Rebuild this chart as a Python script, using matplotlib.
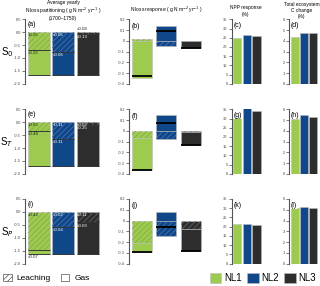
import matplotlib
matplotlib.use('Agg')
import matplotlib.pyplot as plt
from matplotlib.patches import Patch
import numpy as np

plt.rcParams['font.family'] = ['Liberation Sans', 'DejaVu Sans']
plt.rcParams['hatch.linewidth'] = 0.5

# data
models = ['NL1', 'NL2', 'NL3']
scenarios = ['S$_0$', 'S$_T$', 'S$_P$']
colors = ['#9dcb50', '#0f4788', '#2d2d2d']
hatch_colors = ['#7fa840', '#4a7ab5', '#6a6a6a']

# average yearly N loss partitioning (g N m-2 yr-1), negative = loss
leach_avg = [[-0.70, -0.77, -0.07],
             [-0.33, -0.65, -0.12],
             [-1.47, -0.58, -0.41]]
gas_avg = [[-0.95, -0.88, -1.58],
           [-1.37, -1.05, -1.58],
           [-0.17, -1.06, -1.23]]
leach_err = [['±0.25', '±0.06', '±0.08'],
             ['±0.05', '±0.11', '±0.02'],
             ['±0.42', '±0.02', '±0.11']]
gas_err = [['±0.22', '±0.06', '±0.13'],
           ['±0.48', '±0.11', '±0.25'],
           ['±0.07', '±0.04', '±0.03']]

# N loss response (g N m-2 yr-1)
leach_resp = [[0.02, -0.05, -0.005],
              [-0.065, -0.075, -0.01],
              [-0.21, -0.14, -0.075]]
gas_resp = [[-0.35, 0.137, -0.065],
            [-0.30, 0.15, -0.12],
            [-0.08, 0.08, -0.205]]

# NPP response (%) and total ecosystem C change (%)
npp_resp = [[24.8, 26.4, 25.8],
            [32.6, 35.9, 34.3],
            [21.7, 21.5, 20.8]]
c_change = [[4.37, 4.77, 4.70],
            [5.13, 5.47, 5.32],
            [5.16, 5.28, 5.13]]

panel_letters = 'abcdefghijkl'

W, H = 320, 286
fig = plt.figure(figsize=(W / 100, H / 100), dpi=100)

row_top = [19.3, 109.3, 199.0]
row_h = 64.5
# (left px, width px)
cols = [(25, 76.7), (129.3, 74), (231.7, 30), (289, 28.8)]
xlims = [(-0.565, 2.565), (-0.513, 2.513), (-0.516, 2.516), (-0.65, 2.5)]


def make_ax(r, c):
    left, w = cols[c]
    ax = fig.add_axes([left / W, 1 - (row_top[r] + row_h) / H, w / W, row_h / H])
    for s in ['top', 'right', 'bottom']:
        ax.spines[s].set_visible(False)
    ax.spines['left'].set_color('#555555')
    ax.spines['left'].set_linewidth(0.8)
    ax.tick_params(axis='y', labelsize=2.9, length=2, width=0.5, pad=1, colors='#444444')
    ax.set_xticks([])
    ax.set_xlim(*xlims[c])
    ax.patch.set_alpha(0)
    return ax


def seg(ax, x, bottom, height, i, width, hatched):
    ax.bar(x, height, bottom=bottom, width=width, color=colors[i],
           edgecolor='#bbbbbb', linewidth=0.4)
    if hatched:
        ax.bar(x, height, bottom=bottom, width=width, fill=False,
               hatch='//////', edgecolor=hatch_colors[i], linewidth=0)


x = np.arange(3)
for r in range(3):
    # column 1: partitioning
    ax = make_ax(r, 0)
    ax.set_ylim(-2.0, 0.5)
    ax.set_yticks([0.5, 0.0, -0.5, -1.0, -1.5, -2.0])
    ax.set_yticklabels(['0.5', '0.0', '-0.5', '-1.0', '-1.5', '-2.0'])
    for i in range(3):
        L = leach_avg[r][i]
        G = gas_avg[r][i]
        seg(ax, x[i], 0, L, i, 0.91, True)
        seg(ax, x[i], L, G, i, 0.91, False)
        ax.hlines([L, L + G], x[i] - 0.455, x[i] + 0.455, color='#222222', lw=0.6)
        tc = '#222222' if i == 0 else 'white'
        xl = x[i] - 0.43
        if L > -0.12:
            ax.text(xl, 0.03, leach_err[r][i], fontsize=3.2, color='#222222', va='bottom')
        else:
            ax.text(xl, -0.04, leach_err[r][i], fontsize=3.2, color=tc, va='top')
        if G > -0.25:
            ax.text(xl, L + G - 0.04, gas_err[r][i], fontsize=3.2, color='#222222', va='top')
        else:
            ax.text(xl, L - 0.04, gas_err[r][i], fontsize=3.2, color=tc, va='top')
    ax.text(-0.45, 0.42, '(' + panel_letters[4 * r] + ')', fontsize=5, va='top')
    fig.text(7 / W, 1 - (row_top[r] + 33) / H, scenarios[r], fontsize=7, ha='center', va='center')

    # column 2: response
    ax = make_ax(r, 1)
    ax.set_ylim(-0.4, 0.2)
    ax.set_yticks([0.2, 0.1, 0, -0.1, -0.2, -0.3, -0.4])
    ax.set_yticklabels(['0.2', '0.1', '0', '-0.1', '-0.2', '-0.3', '-0.4'])
    for i in range(3):
        pos, neg = 0.0, 0.0
        for v, h in [(leach_resp[r][i], True), (gas_resp[r][i], False)]:
            if v >= 0:
                seg(ax, x[i], pos, v, i, 0.83, h)
                pos += v
            else:
                seg(ax, x[i], neg, v, i, 0.83, h)
                neg += v
        net = leach_resp[r][i] + gas_resp[r][i]
        ax.hlines(net, x[i] - 0.415, x[i] + 0.415, color='black', lw=1.3)
    ax.text(-0.42, 0.17, '(' + panel_letters[4 * r + 1] + ')', fontsize=5, va='top')

    # column 3: NPP response
    ax = make_ax(r, 2)
    ax.set_ylim(0, 35)
    ax.set_yticks(np.arange(0, 36, 5))
    ax.bar(x, npp_resp[r], width=0.83, color=colors, edgecolor='#bbbbbb', linewidth=0.4)
    ax.text(-0.35, 33.5, '(' + panel_letters[4 * r + 2] + ')', fontsize=5, va='top',
            bbox=dict(facecolor='white', edgecolor='none', pad=0.2))

    # column 4: C change
    ax = make_ax(r, 3)
    ax.set_ylim(0, 6)
    ax.set_yticks(np.arange(0, 7, 1))
    ax.bar(x, c_change[r], width=0.93, color=colors, edgecolor='#bbbbbb', linewidth=0.4)
    ax.text(-0.45, 5.75, '(' + panel_letters[4 * r + 3] + ')', fontsize=5, va='top',
            bbox=dict(facecolor='white', edgecolor='none', pad=0.2))

# column titles
fig.text(63 / W, 1 - 10.5 / H, 'Average yearly\nN loss partitioning ( g N m$^{-2}$ yr$^{-1}$ )\n(1700\u20131750)',
         fontsize=3.5, ha='center', va='center', linespacing=1.15)
fig.text(166 / W, 1 - 10 / H, 'N loss response ( g N m$^{-2}$ yr$^{-1}$ )',
         fontsize=3.5, ha='center', va='center')
fig.text(246 / W, 1 - 11 / H, 'NPP response\n(%)', fontsize=3.5, ha='center', va='center',
         linespacing=1.5)
fig.text(302 / W, 1 - 10.5 / H, 'Total ecosystem\nC change\n(%)', fontsize=3.5, ha='center',
         va='center', linespacing=1.15)

# legends
h1 = [Patch(facecolor='white', edgecolor='#555555', hatch='//////', linewidth=0.5),
      Patch(facecolor='white', edgecolor='#555555', linewidth=0.5)]
fig.legend(h1, ['Leaching', 'Gas'], loc='center left', bbox_to_anchor=(0.0, 1 - 278 / H),
           ncol=2, frameon=False, fontsize=6, handlelength=1.0, handleheight=1.0,
           columnspacing=1.2, handletextpad=0.6, borderaxespad=0)
h2 = [Patch(facecolor=c, edgecolor='#bbbbbb', linewidth=0.4) for c in colors]
fig.legend(h2, models, loc='center right', bbox_to_anchor=(1.0, 1 - 278 / H),
           ncol=3, frameon=False, fontsize=7, handlelength=1.2, handleheight=1.2,
           columnspacing=0.5, handletextpad=0.3, borderaxespad=0)

fig.savefig('out.png', dpi=100)
